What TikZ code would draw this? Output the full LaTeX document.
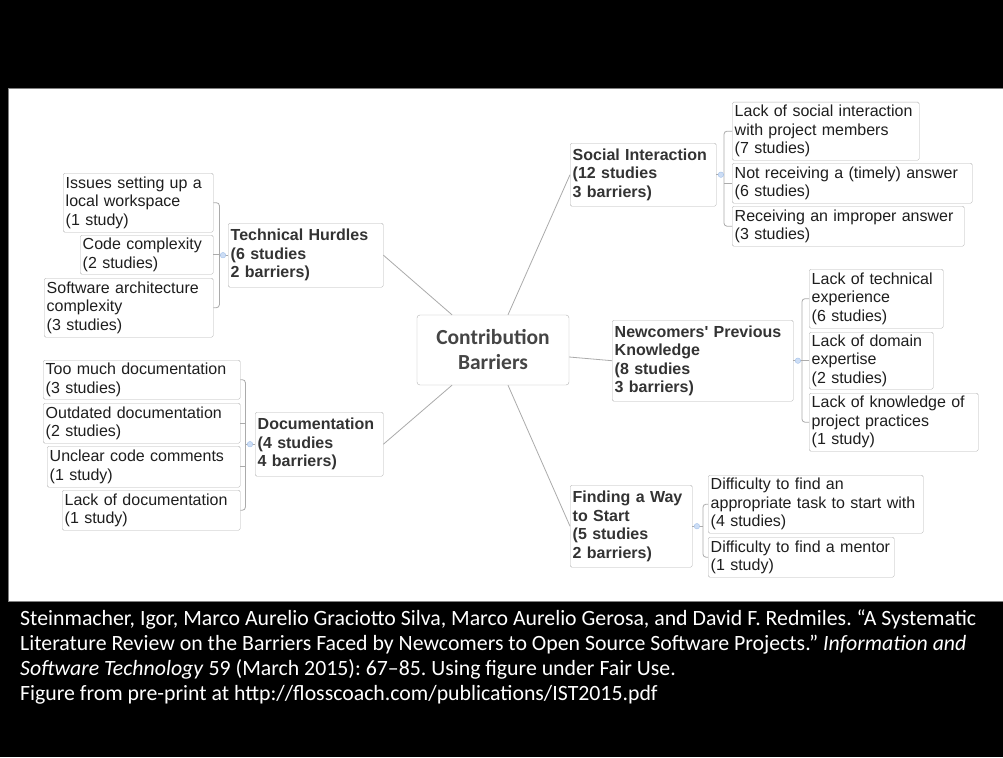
\documentclass[tikz,border=0pt]{standalone}
\usepackage{fontspec}
\setmainfont{Liberation Sans}
\newfontfamily\capfont[WordSpace = 1.3]{Carlito}
\newfontfamily\hubfont{Carlito}
\usetikzlibrary{calc}
\definecolor{boxline}{HTML}{B5B5B5}
\definecolor{linkgray}{HTML}{ABABAB}
\definecolor{dotfill}{HTML}{CCDDF5}
\definecolor{dotline}{HTML}{A3C1EA}
\definecolor{leaftext}{HTML}{1E1E1E}
\definecolor{hubtext}{HTML}{454545}
\tikzstyle{leaf} = [draw = boxline, rounded corners = 1.5pt, anchor = north west, align = left,
        inner xsep = 2.5pt, inner ysep = 1pt, text = leaftext, font = \fontsize{16}{18.5}\selectfont]
\tikzstyle{topic} = [leaf, text = black!80, font = \fontsize{16}{18.5}\selectfont\bfseries]
\tikzstyle{hub} = [draw = boxline, rounded corners = 3pt, align = center, text = hubtext,
        font = \hubfont\fontsize{21.5}{25}\selectfont\bfseries]
\tikzstyle{link} = [draw = linkgray, line width = 0.8pt]
\tikzstyle{branch} = [link, rounded corners = 3pt]
\tikzstyle{knob} = [circle, fill = dotfill, draw = dotline, line width = 0.4pt, inner sep = 0pt, minimum size = 5.5pt]
\tikzstyle{capline} = [anchor = base west, inner sep = 0pt, text = white, font = \capfont\fontsize{21.8}{25}\selectfont\frenchspacing]

\begin{document}
\begin{tikzpicture}[x = 1pt, y = -1pt]
        \path[use as bounding box, clip] (0,0) rectangle (1003,757);
        \fill[black] (0,0) rectangle (1003,757);
        \filldraw[fill = white, draw = gray] (8,88) rectangle (1006,601);

        \node[hub, minimum width = 152pt, minimum height = 70pt] (cb) at (493,350) {Contribution\\Barriers};

        \foreach \nm/\px/\py/\bw/\bh/\txt in {
                th/228/223/150/64/{Technical Hurdles\\(6 studies\\2 barriers)},
                doc/255/412/123/64/{Documentation\\(4 studies\\4 barriers)},
                si/570/143/141/63/{Social Interaction\\(12 studies\\3 barriers)},
                nk/612/320/176/81/{Newcomers\textquotesingle{} Previous\\Knowledge\\(8 studies\\3 barriers)},
                fw/570/485/117/82/{Finding a Way\\to Start\\(5 studies\\2 barriers)}}
        {
            \node[topic, text width = \bw pt, minimum height = \bh pt] (\nm) at (\px,\py) {\txt};
        }

        \foreach \nm/\px/\py/\bw/\bh/\txt in {
                t1/63/173/145/59/{Issues setting up a\\local workspace\\(1 study)},
                t2/80/235/128/39/{Code complexity\\(2 studies)},
                t3/44/278/164/59/{Software architecture\\complexity\\(3 studies)},
                d1/43/360/192/39/{Too much documentation\\(3 studies)},
                d2/43/403/192/40/{Outdated documentation\\(2 studies)},
                d3/47/446/188/41/{Unclear code comments\\(1 study)},
                d4/62/490/173/40/{Lack of documentation\\(1 study)},
                s1/732/102/182/58/{Lack of social interaction\\with project members\\(7 studies)},
                s2/732/163/235/40/{Not receiving a (timely) answer\\(6 studies)},
                s3/732/206/227/40/{Receiving an improper answer\\(3 studies)},
                n1/809/269/129/59/{Lack of technical\\experience\\(6 studies)},
                n2/809/332/119/57/{Lack of domain\\expertise\\(2 studies)},
                n3/809/393/164/58/{Lack of knowledge of\\project practices\\(1 study)},
                f1/708/475/210/58/{Difficulty to find an\\appropriate task to start with\\(4 studies)},
                f2/708/537/181/40/{Difficulty to find a mentor\\(1 study)}}
        {
            \node[leaf, text width = \bw pt, minimum height = \bh pt] (\nm) at (\px,\py) {\txt};
        }

        \draw[link] (th.east) -- ([xshift = -41pt]cb.north);
        \draw[link] (doc.east) -- ([xshift = -41pt]cb.south);
        \draw[link] ([xshift = 15pt]cb.north) -- (si.west);
        \draw[link] ([yshift = -7pt]cb.east) -- (nk.west);
        \draw[link] ([xshift = 15pt]cb.south) -- (fw.west);

        \draw[branch] (t1.east) -| ([xshift = 6pt]t3.east) -- (t3.east);
        \draw[branch] (d1.east) -| ([xshift = 5pt]d4.east) -- (d4.east);
        \draw[branch] (s1.west) -| ([xshift = -8pt]s3.west) -- (s3.west);
        \draw[branch] (n1.west) -| ([xshift = -7pt]n3.west) -- (n3.west);
        \draw[branch] (f1.west) -| ([xshift = -5pt]f2.west) -- (f2.west);

        \foreach \c/\d in {t2/6, d2/5, d3/5}
            \draw[link] (\c.east) -- ++(\d pt,0);
        \foreach \c/\d in {s2/8, n2/7}
            \draw[link] (\c.west) -- ++(-\d pt,0);

        \foreach \p/\d in {th/9, doc/10}
        {
            \draw[link] (\p.west) -- ++(-\d pt,0);
            \node[knob] (k\p) at ([xshift = -5pt]\p.west) {};
        }
        \foreach \p/\d in {si/8, nk/9, fw/11}
        {
            \draw[link] (\p.east) -- ++(\d pt,0);
            \node[knob] (k\p) at ([xshift = 4.5pt]\p.east) {};
        }

        \foreach \ln [count = \k] in {
                {Steinmacher, Igor, Marco Aurelio Graciotto Silva, Marco Aurelio Gerosa, and David F. Redmiles. “A Systematic},
                {Literature Review on the Barriers Faced by Newcomers to Open Source Software Projects.” \textit{Information and}},
                {\textit{Software Technology} 59 (March 2015): 67–85. Using figure under Fair Use.},
                {Figure from pre-print at http://flosscoach.com/publications/IST2015.pdf}}
        {
            \node[capline] (cap\k) at (20,{625 + 25*(\k - 1)}) {\ln};
        }
\end{tikzpicture}
\end{document}
